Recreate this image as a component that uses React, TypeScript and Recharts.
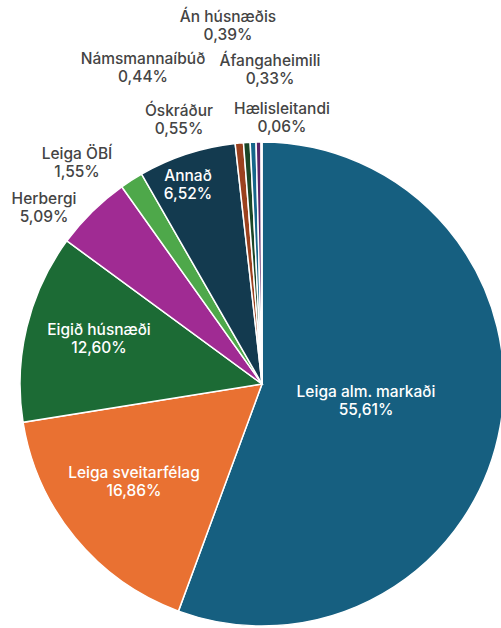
import React from 'react';
import { PieChart, Pie, Cell } from 'recharts';

const categories = [
    'Leiga alm. markaði',
    'Leiga sveitarfélag',
    'Eigið húsnæði',
    'Herbergi',
    'Leiga ÖBÍ',
    'Annað',
    'Óskráður',
    'Námsmannaíbúð',
    'Án húsnæðis',
    'Áfangaheimili',
    'Hælisleitandi',
];

const shares = [55.61, 16.86, 12.6, 5.09, 1.55, 6.52, 0.55, 0.44, 0.39, 0.33, 0.06];

const COLORS = [
    '#165f80', // blue
    '#e97132', // orange
    '#1c6b35', // green
    '#a02b93', // magenta
    '#4ea84a', // light green
    '#133a4f', // navy
    '#9b411e', // brown
    '#1a4526', // dark green
    '#16668a', // blue
    '#5b2468', // purple
    '#2b4f86', // tiny
];

// label placement relative to pie centre (first line), white = inside slice
const LABELS = [
    { dx: 104, dy: 7, inside: true },
    { dx: -128, dy: 88, inside: true },
    { dx: -163, dy: -55, inside: true },
    { dx: -218, dy: -186, inside: false },
    { dx: -185, dy: -231, inside: false },
    { dx: -74, dy: -209, inside: true },
    { dx: -83, dy: -274, inside: false },
    { dx: -119, dy: -326, inside: false },
    { dx: -34, dy: -368, inside: false },
    { dx: 8, dy: -324, inside: false },
    { dx: 20, dy: -276, inside: false },
];

const data = categories.map((name, i) => ({ name, value: shares[i] }));

const fmt = (v: number) => v.toFixed(2).replace('.', ',') + '%';

const renderLabel = (props: any) => {
    const { cx, cy, index, value, name } = props;
    const l = LABELS[index];
    const x = cx + l.dx;
    const y = cy + l.dy - 0.5;
    return (
        <text
            x={x}
            y={y}
            textAnchor="middle"
            dominantBaseline="central"
            fill={l.inside ? '#ffffff' : '#444444'}
            fontSize={15.5}
            fontWeight={500}
            fontFamily="Inter, 'Open Sans', sans-serif"
        >
            <tspan x={x} y={y}>{name}</tspan>
            <tspan x={x} y={y + 18}>{fmt(value)}</tspan>
        </text>
    );
};

export default function App() {
    return (
        <div style={{ position: 'absolute', left: 0, top: 0, width: 501, height: 628, background: '#fff' }}>
            <PieChart width={501} height={628} margin={{ top: 0, right: 0, bottom: 0, left: 0 }}>
                <Pie
                    data={data}
                    dataKey="value"
                    nameKey="name"
                    cx={262}
                    cy={384}
                    outerRadius={242}
                    startAngle={90}
                    endAngle={-270}
                    stroke="#ffffff"
                    strokeWidth={1.5}
                    labelLine={false}
                    label={renderLabel}
                    isAnimationActive={false}
                >
                    {data.map((entry, i) => (
                        <Cell key={`cell-${i}`} fill={COLORS[i]} />
                    ))}
                </Pie>
            </PieChart>
        </div>
    );
}
